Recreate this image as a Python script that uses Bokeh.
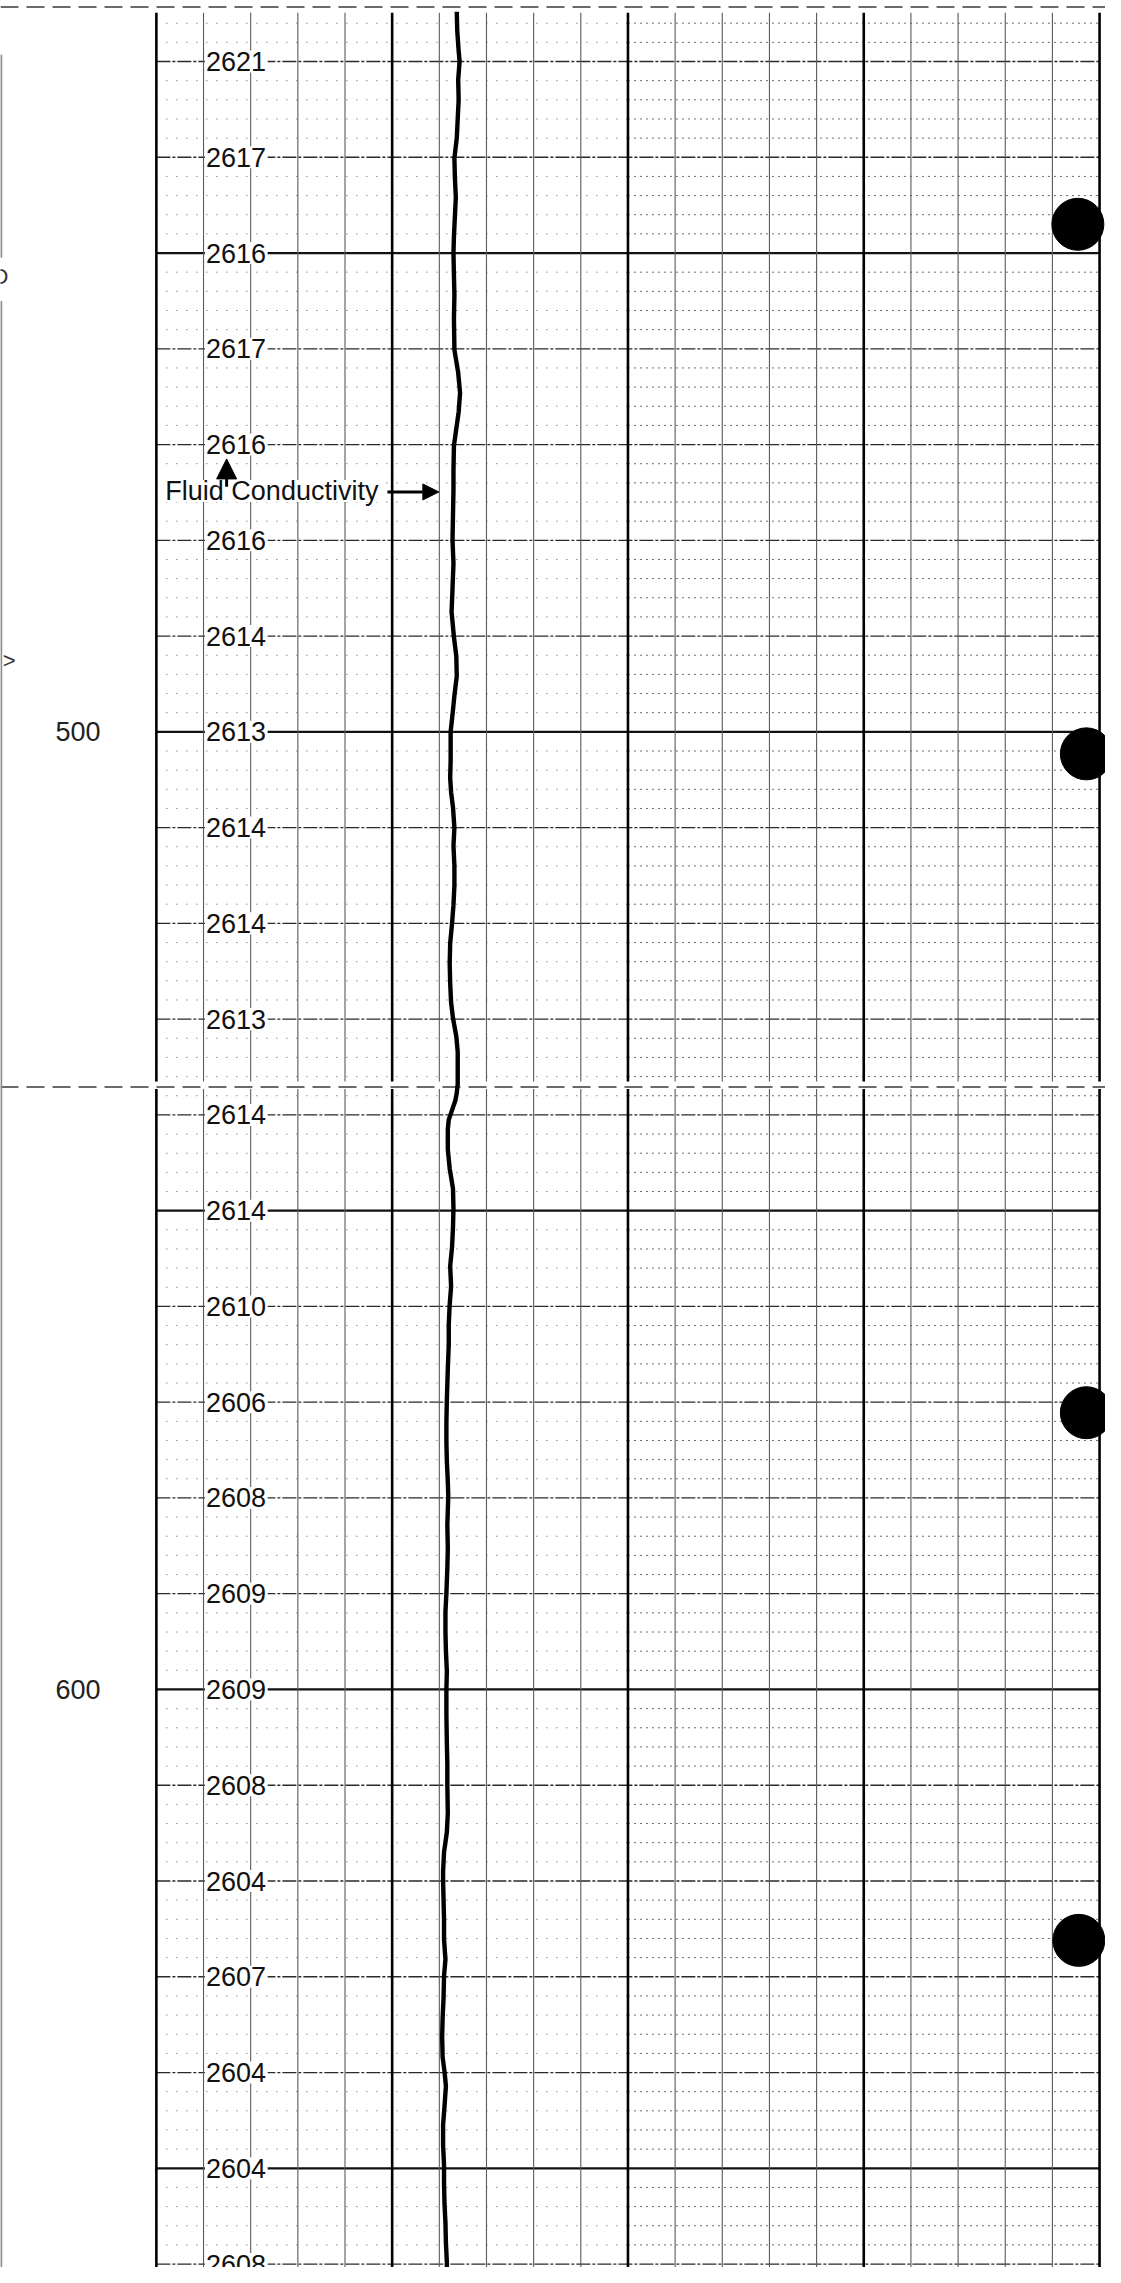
import numpy as np
from bokeh.plotting import figure
from bokeh.models import Range1d, Arrow, NormalHead
from bokeh.core.properties import value
from bokeh.embed import file_html
from bokeh.resources import INLINE

# ---------------- data ----------------
# fluid conductivity curve: depth (log units) and track position (chart divisions 0-20)
curve_depth = [424.8, 426.8, 428.9, 430.0, 431.9, 434.0, 436.0, 438.0, 440.1, 442.1,
               444.2, 446.2, 448.3, 450.0, 452.3, 454.4, 456.9, 460.1, 462.5, 464.6,
               466.6, 468.7, 470.1, 472.7, 474.8, 477.3, 480.0, 482.4, 485.0, 487.5,
               490.1, 492.1, 494.2, 496.2, 498.2, 500.0, 503.0, 504.8, 506.3, 507.9,
               510.0, 511.9, 514.0, 516.0, 518.1, 520.0, 522.1, 524.2, 526.2, 528.3,
               529.9, 531.8, 533.4, 535.4, 536.8, 537.7, 538.5, 539.5, 540.5, 541.5,
               543.6, 545.6, 547.7, 549.8, 551.7, 553.8, 555.8, 557.9, 559.8, 561.9,
               564.0, 566.5, 569.7, 572.1, 574.2, 576.2, 578.3, 579.8, 582.8, 585.3,
               587.3, 590.0, 591.9, 594.0, 596.0, 598.1, 600.0, 602.7, 605.7, 607.8,
               610.0, 612.9, 614.9, 617.0, 619.0, 620.0, 622.0, 624.1, 626.1, 628.2,
               629.9, 632.2, 634.3, 636.3, 638.4, 639.9, 641.4, 643.5, 645.5, 647.6,
               649.7, 651.6, 653.7, 655.7, 657.8, 659.8, 661.2]
curve_value = [6.37, 6.38, 6.41, 6.43, 6.40, 6.41, 6.39, 6.37, 6.32, 6.33,
               6.35, 6.33, 6.31, 6.30, 6.31, 6.32, 6.31, 6.32, 6.40, 6.44,
               6.41, 6.35, 6.31, 6.30, 6.30, 6.29, 6.28, 6.30, 6.28, 6.26,
               6.31, 6.36, 6.37, 6.32, 6.28, 6.24, 6.24, 6.23, 6.25, 6.29,
               6.32, 6.30, 6.32, 6.32, 6.30, 6.27, 6.23, 6.22, 6.23, 6.25,
               6.29, 6.36, 6.39, 6.39, 6.39, 6.37, 6.34, 6.27, 6.20, 6.18,
               6.18, 6.22, 6.29, 6.30, 6.29, 6.27, 6.23, 6.25, 6.22, 6.20,
               6.20, 6.18, 6.16, 6.15, 6.15, 6.16, 6.18, 6.19, 6.17, 6.18,
               6.17, 6.15, 6.13, 6.13, 6.14, 6.16, 6.15, 6.15, 6.16, 6.17,
               6.17, 6.18, 6.16, 6.10, 6.08, 6.08, 6.09, 6.10, 6.10, 6.13,
               6.10, 6.09, 6.07, 6.06, 6.07, 6.11, 6.14, 6.11, 6.08, 6.08,
               6.10, 6.10, 6.11, 6.13, 6.14, 6.16, 6.16]

# tick labels written on the major depth lines
label_depth = [430, 440, 450, 460, 470, 480, 490, 500, 510, 520, 530, 540,
               550, 560, 570, 580, 590, 600, 610, 620, 630, 640, 650, 660]
label_text = ["2621", "2617", "2616", "2617", "2616", "2616", "2614", "2613",
              "2614", "2614", "2613", "2614", "2614", "2610", "2606", "2608",
              "2609", "2609", "2608", "2604", "2607", "2604", "2604", "2608"]

# depth annotations in the left margin
depth_label_depth = [500, 600]
depth_label_text = ["500", "600"]

# black markers at the right edge of the track
dot_depth = [447.0, 502.3, 571.1, 626.2]
dot_value = [19.54, 19.72, 19.72, 19.56]

# ---------------- layout ----------------
X0, X1 = -3.305, 20.126           # track divisions visible in the frame
D_TOP, D_BOT = 423.63, 660.36     # depth visible in the frame
SPLICE = 537.1                    # splice between the two log runs
N_DIV = 20

p = figure(width=1105, height=2267, x_range=Range1d(X0, X1),
           y_range=Range1d(D_BOT, D_TOP), output_backend="svg",
           toolbar_location=None, x_axis_location=None, y_axis_location=None,
           min_border=0, outline_line_color=None)
p.grid.visible = False
p.background_fill_color = "white"
p.border_fill_color = "white"

# top dashed line and splice dashed line across the full width
p.segment(x0=[X0, X0], x1=[X1, X1], y0=[424.3, SPLICE], y1=[424.3, SPLICE],
          line_color="#6a6a6a", line_width=2, line_dash="18 8")

# left margin edge line
p.segment(x0=[-3.29, -3.29], x1=[-3.29, -3.29], y0=[429.3, 455.0], y1=[450.5, 661.2],
          line_color="#8a8a8a", line_width=2)

# minor horizontal (every 2 units) dotted lines, left and right half
minor = [d for d in np.arange(426, 661, 2) if d % 10 != 0]
minor = [d for d in minor if not (536.5 < d < 537.6)]
p.segment(x0=[0] * len(minor), x1=[10] * len(minor), y0=minor, y1=minor,
          line_color="#555555", line_width=1, line_dash="1 9")
p.segment(x0=[10] * len(minor), x1=[20] * len(minor), y0=minor, y1=minor,
          line_color="#6a6a6a", line_width=1, line_dash="2 4")

# major horizontal lines every 10 units
major = [d for d in np.arange(430, 661, 10) if d % 50 != 0]
p.segment(x0=[0] * len(major), x1=[20] * len(major), y0=major, y1=major,
          line_color="#2a2a2a", line_width=1.3, line_dash="14 2 3 2")
heavy = [d for d in np.arange(430, 661, 10) if d % 50 == 0]
p.segment(x0=[0] * len(heavy), x1=[20] * len(heavy), y0=heavy, y1=heavy,
          line_color="#111111", line_width=2.3)

# vertical grid of the track (two runs)
for top, bot in [(424.9, 536.5), (537.3, 661.2)]:
    thin = [u for u in range(N_DIV + 1) if u % 5 != 0]
    p.segment(x0=thin, x1=thin, y0=[top] * len(thin), y1=[bot] * len(thin),
              line_color="#5a5a5a", line_width=1.1)
    thick = [u for u in range(N_DIV + 1) if u % 5 == 0]
    p.segment(x0=thick, x1=thick, y0=[top] * len(thick), y1=[bot] * len(thick),
              line_color="#000000", line_width=2.6)

# white boxes behind the line labels
p.quad(left=[1.03] * len(label_depth), right=[2.36] * len(label_depth),
       top=[d - 1.15 for d in label_depth], bottom=[d + 1.15 for d in label_depth],
       fill_color="white", line_color=None)
p.text(x=[1.05] * len(label_depth), y=label_depth, text=label_text,
       text_font=value("Liberation Sans"), text_font_size="27px",
       text_align="left", text_baseline="middle", text_color="#111111")

# depth labels in margin
p.text(x=[-1.663] * len(depth_label_depth), y=depth_label_depth, text=depth_label_text,
       text_font=value("Liberation Sans"), text_font_size="27px",
       text_align="center", text_baseline="middle", text_color="#222222")

# clipped glyphs at the left edge
p.text(x=[X0, -3.12], y=[452.5, 492.6], text=["D", ">"],
       text_font=value("Liberation Sans"), text_font_size="22px",
       text_align="center", text_baseline="middle", text_color="#333333")

# curve annotation
p.quad(left=[0.12], right=[4.8], top=[473.7], bottom=[476.0],
       fill_color="white", line_color=None)
p.text(x=[0.19], y=[474.9], text=["Fluid Conductivity"],
       text_font=value("Liberation Sans"), text_font_size="27px",
       text_align="left", text_baseline="middle", text_color="#111111")
p.add_layout(Arrow(end=NormalHead(size=16, fill_color="black", line_color="black"),
                   x_start=4.9, y_start=474.95, x_end=5.99, y_end=474.95,
                   line_width=3, line_color="black"))
p.add_layout(Arrow(end=NormalHead(size=20, fill_color="black", line_color="black"),
                   x_start=1.49, y_start=474.4, x_end=1.49, y_end=471.5,
                   line_width=3, line_color="black"))

# conductivity curve
p.line(curve_value, curve_depth, line_color="black", line_width=4.4)

# markers
p.scatter(dot_value, dot_depth, size=52, fill_color="black", line_color="black")

open("out.html", "w").write(file_html(p, INLINE))
